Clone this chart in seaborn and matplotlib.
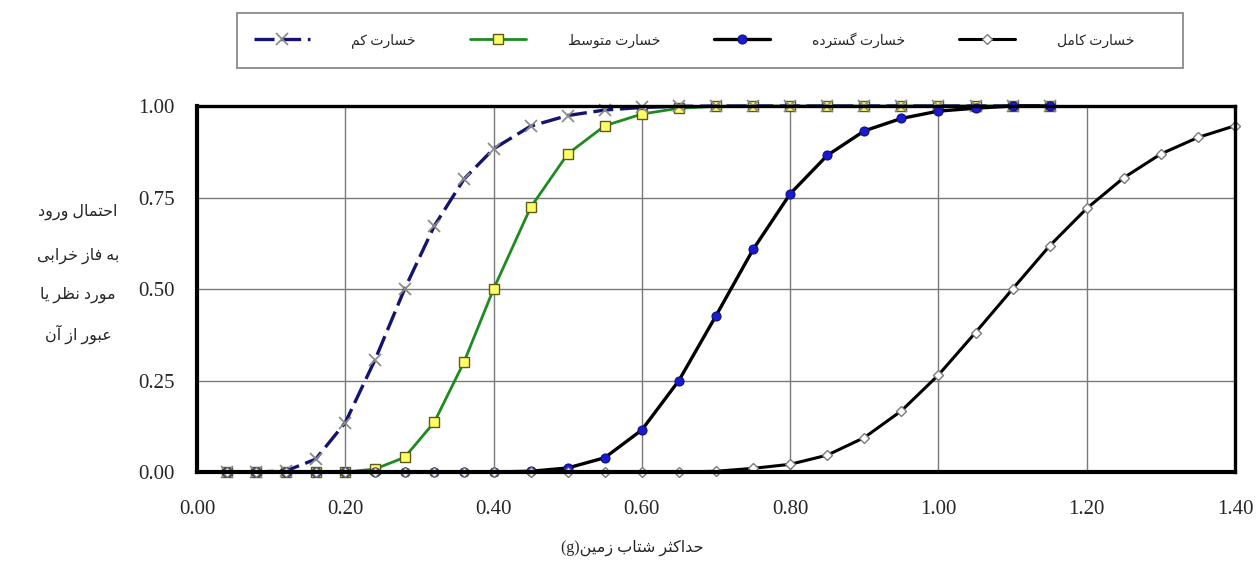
import matplotlib
matplotlib.use("Agg")
import matplotlib.pyplot as plt
from matplotlib.patches import Rectangle
from matplotlib.ticker import MultipleLocator, FormatStrFormatter
import seaborn as sns
import pandas as pd

# داده‌ها (خوانده شده از نمودار)
pga = [0.04, 0.08, 0.12, 0.16, 0.20, 0.24, 0.28, 0.32, 0.36, 0.40,
       0.45, 0.50, 0.55, 0.60, 0.65, 0.70, 0.75, 0.80, 0.85, 0.90,
       0.95, 1.00, 1.05, 1.10, 1.15, 1.20, 1.25, 1.30, 1.35, 1.40]

slight = [0.0, 0.0, 0.003, 0.035, 0.135, 0.306, 0.50, 0.672, 0.80, 0.883,
          0.945, 0.974, 0.989, 0.996, 0.999, 1.0, 1.0, 1.0, 1.0, 1.0,
          1.0, 1.0, 1.0, 1.0, 1.0]
moderate = [0.0, 0.0, 0.0, 0.0, 0.0, 0.008, 0.04, 0.136, 0.30, 0.50,
            0.723, 0.869, 0.946, 0.978, 0.994, 0.999, 1.0, 1.0, 1.0, 1.0,
            1.0, 1.0, 1.0, 1.0, 1.0]
extensive = [0.0, 0.0, 0.0, 0.0, 0.0, 0.0, 0.0, 0.0, 0.0, 0.0,
             0.002, 0.011, 0.039, 0.115, 0.25, 0.427, 0.608, 0.76, 0.865, 0.932,
             0.966, 0.986, 0.994, 1.0, 1.0]
complete = [0.0, 0.0, 0.0, 0.0, 0.0, 0.0, 0.0, 0.0, 0.0, 0.0,
            0.0, 0.0, 0.0, 0.0, 0.0, 0.002, 0.01, 0.021, 0.046, 0.094,
            0.167, 0.265, 0.381, 0.50, 0.618, 0.72, 0.804, 0.869, 0.914, 0.946]

names = ["خسارت کم", "خسارت متوسط", "خسارت گسترده", "خسارت کامل"]
ylabel_lines = ["احتمال ورود", "به فاز خرابی", "مورد نظر یا", "عبور از آن"]
xlabel_text = "حداکثر شتاب زمین"

# شکل‌دهی حروف فارسی (matplotlib خودش این کار را نمی‌کند)
FORMS = {
    "ا": ("\uFE8D", "\uFE8E"), "آ": ("\uFE81", "\uFE82"),
    "ب": ("\uFE8F", "\uFE90", "\uFE91", "\uFE92"),
    "ت": ("\uFE95", "\uFE96", "\uFE97", "\uFE98"),
    "ث": ("\uFE99", "\uFE9A", "\uFE9B", "\uFE9C"),
    "ح": ("\uFEA1", "\uFEA2", "\uFEA3", "\uFEA4"),
    "خ": ("\uFEA5", "\uFEA6", "\uFEA7", "\uFEA8"),
    "د": ("\uFEA9", "\uFEAA"), "ر": ("\uFEAD", "\uFEAE"),
    "ز": ("\uFEAF", "\uFEB0"), "و": ("\uFEED", "\uFEEE"),
    "س": ("\uFEB1", "\uFEB2", "\uFEB3", "\uFEB4"),
    "ش": ("\uFEB5", "\uFEB6", "\uFEB7", "\uFEB8"),
    "ط": ("\uFEC1", "\uFEC2", "\uFEC3", "\uFEC4"),
    "ظ": ("\uFEC5", "\uFEC6", "\uFEC7", "\uFEC8"),
    "ع": ("\uFEC9", "\uFECA", "\uFECB", "\uFECC"),
    "ف": ("\uFED1", "\uFED2", "\uFED3", "\uFED4"),
    "ک": ("\uFB8E", "\uFB8F", "\uFB90", "\uFB91"),
    "گ": ("\uFB92", "\uFB93", "\uFB94", "\uFB95"),
    "ل": ("\uFEDD", "\uFEDE", "\uFEDF", "\uFEE0"),
    "م": ("\uFEE1", "\uFEE2", "\uFEE3", "\uFEE4"),
    "ن": ("\uFEE5", "\uFEE6", "\uFEE7", "\uFEE8"),
    "ه": ("\uFEE9", "\uFEEA", "\uFEEB", "\uFEEC"),
    "ی": ("\uFBFC", "\uFBFD", "\uFBFE", "\uFBFF"),
}


def shape(text):
    out = []
    for i, ch in enumerate(text):
        f = FORMS.get(ch)
        if f is None:
            out.append(ch)
            continue
        prev = text[i - 1] if i > 0 else ""
        nxt = text[i + 1] if i < len(text) - 1 else ""
        jp = prev in FORMS and len(FORMS[prev]) == 4
        jn = len(f) == 4 and nxt in FORMS
        if jp and jn:
            out.append(f[3])
        elif jp:
            out.append(f[1])
        elif jn:
            out.append(f[2])
        else:
            out.append(f[0])
    return "".join(out)


def fa(s):
    # راست به چپ: کل رشته شکل‌دهی و بعد وارونه می‌شود
    return shape(s)[::-1]


sns.set_style("white")
plt.rcParams["font.family"] = ["Liberation Serif", "DejaVu Sans"]

fig = plt.figure(figsize=(12.59, 5.67), dpi=100)
ax = fig.add_axes([197 / 1259, 95 / 567, 1038 / 1259, 366 / 567])

styles = [
    dict(color="#14146e", marker="x", markersize=9, markeredgecolor="#8c8c8c",
         markeredgewidth=1.3, linewidth=2.4, linestyle=(0, (6, 2))),
    dict(color="#1f8a1f", marker="s", markersize=7, markerfacecolor="#ffff66",
         markeredgecolor="#5a5a1a", markeredgewidth=1.0, linewidth=2.0),
    dict(color="black", marker="o", markersize=6.5, markerfacecolor="#1a1ad2",
         markeredgecolor="#10107a", markeredgewidth=0.8, linewidth=2.4),
    dict(color="black", marker="D", markersize=5.5, markerfacecolor="white",
         markeredgecolor="#7a7a7a", markeredgewidth=1.0, linewidth=2.2),
]
zorders = [3, 2, 4, 5]

for name, vals, st, z in zip(names, [slight, moderate, extensive, complete], styles, zorders):
    d = pd.DataFrame({"pga": pga[:len(vals)], "p": vals})
    sns.lineplot(data=d, x="pga", y="p", ax=ax, label=fa(name), legend=False,
                 clip_on=False, zorder=z, **st)

ax.set_xlim(0, 1.40)
ax.set_ylim(0, 1.0)
ax.xaxis.set_major_locator(MultipleLocator(0.2))
ax.yaxis.set_major_locator(MultipleLocator(0.25))
ax.xaxis.set_minor_locator(MultipleLocator(0.05))
ax.yaxis.set_minor_locator(MultipleLocator(0.05))
ax.xaxis.set_major_formatter(FormatStrFormatter("%.2f"))
ax.yaxis.set_major_formatter(FormatStrFormatter("%.2f"))
ax.grid(True, which="major", color="#7a7a7a", linewidth=1.0)
ax.tick_params(which="major", direction="in", length=5, width=1, labelsize=15)
ax.tick_params(which="minor", direction="in", length=4, width=1)
ax.tick_params(axis="x", pad=20)
ax.tick_params(axis="y", pad=16)
ax.set_xlabel("")
ax.set_ylabel("")
for side in ["left", "bottom"]:
    ax.spines[side].set_linewidth(3.0)
for side in ["top", "right"]:
    ax.spines[side].set_linewidth(2.4)
for sp in ax.spines.values():
    sp.set_color("black")
    sp.set_zorder(6)

# عنوان محورها
ys = [212, 256, 295, 334]
for line, yy in zip(ylabel_lines, ys):
    fig.text(78 / 1259, 1 - yy / 567, fa(line), ha="center", va="center", fontsize=11.5)
fig.text(632 / 1259, 1 - 548 / 567, "(g)" + fa(xlabel_text), ha="center",
         va="center", fontsize=11.5)

# راهنما
fig.patches.append(Rectangle((237 / 1259, 1 - 68 / 567), 946 / 1259, 55 / 567,
                             transform=fig.transFigure, facecolor="white",
                             edgecolor="#8a8a8a", linewidth=1.3, zorder=0))
handles, labels = ax.get_legend_handles_labels()
fig.legend(handles, labels, loc="center left", ncol=4, mode="expand",
           bbox_to_anchor=(254 / 1259, 1 - 46 / 567, 880 / 1259, 12 / 567),
           frameon=False, fontsize=10, handlelength=4.0, handletextpad=3.0,
           borderpad=0, borderaxespad=0)

plt.savefig("out.png", dpi=100)
